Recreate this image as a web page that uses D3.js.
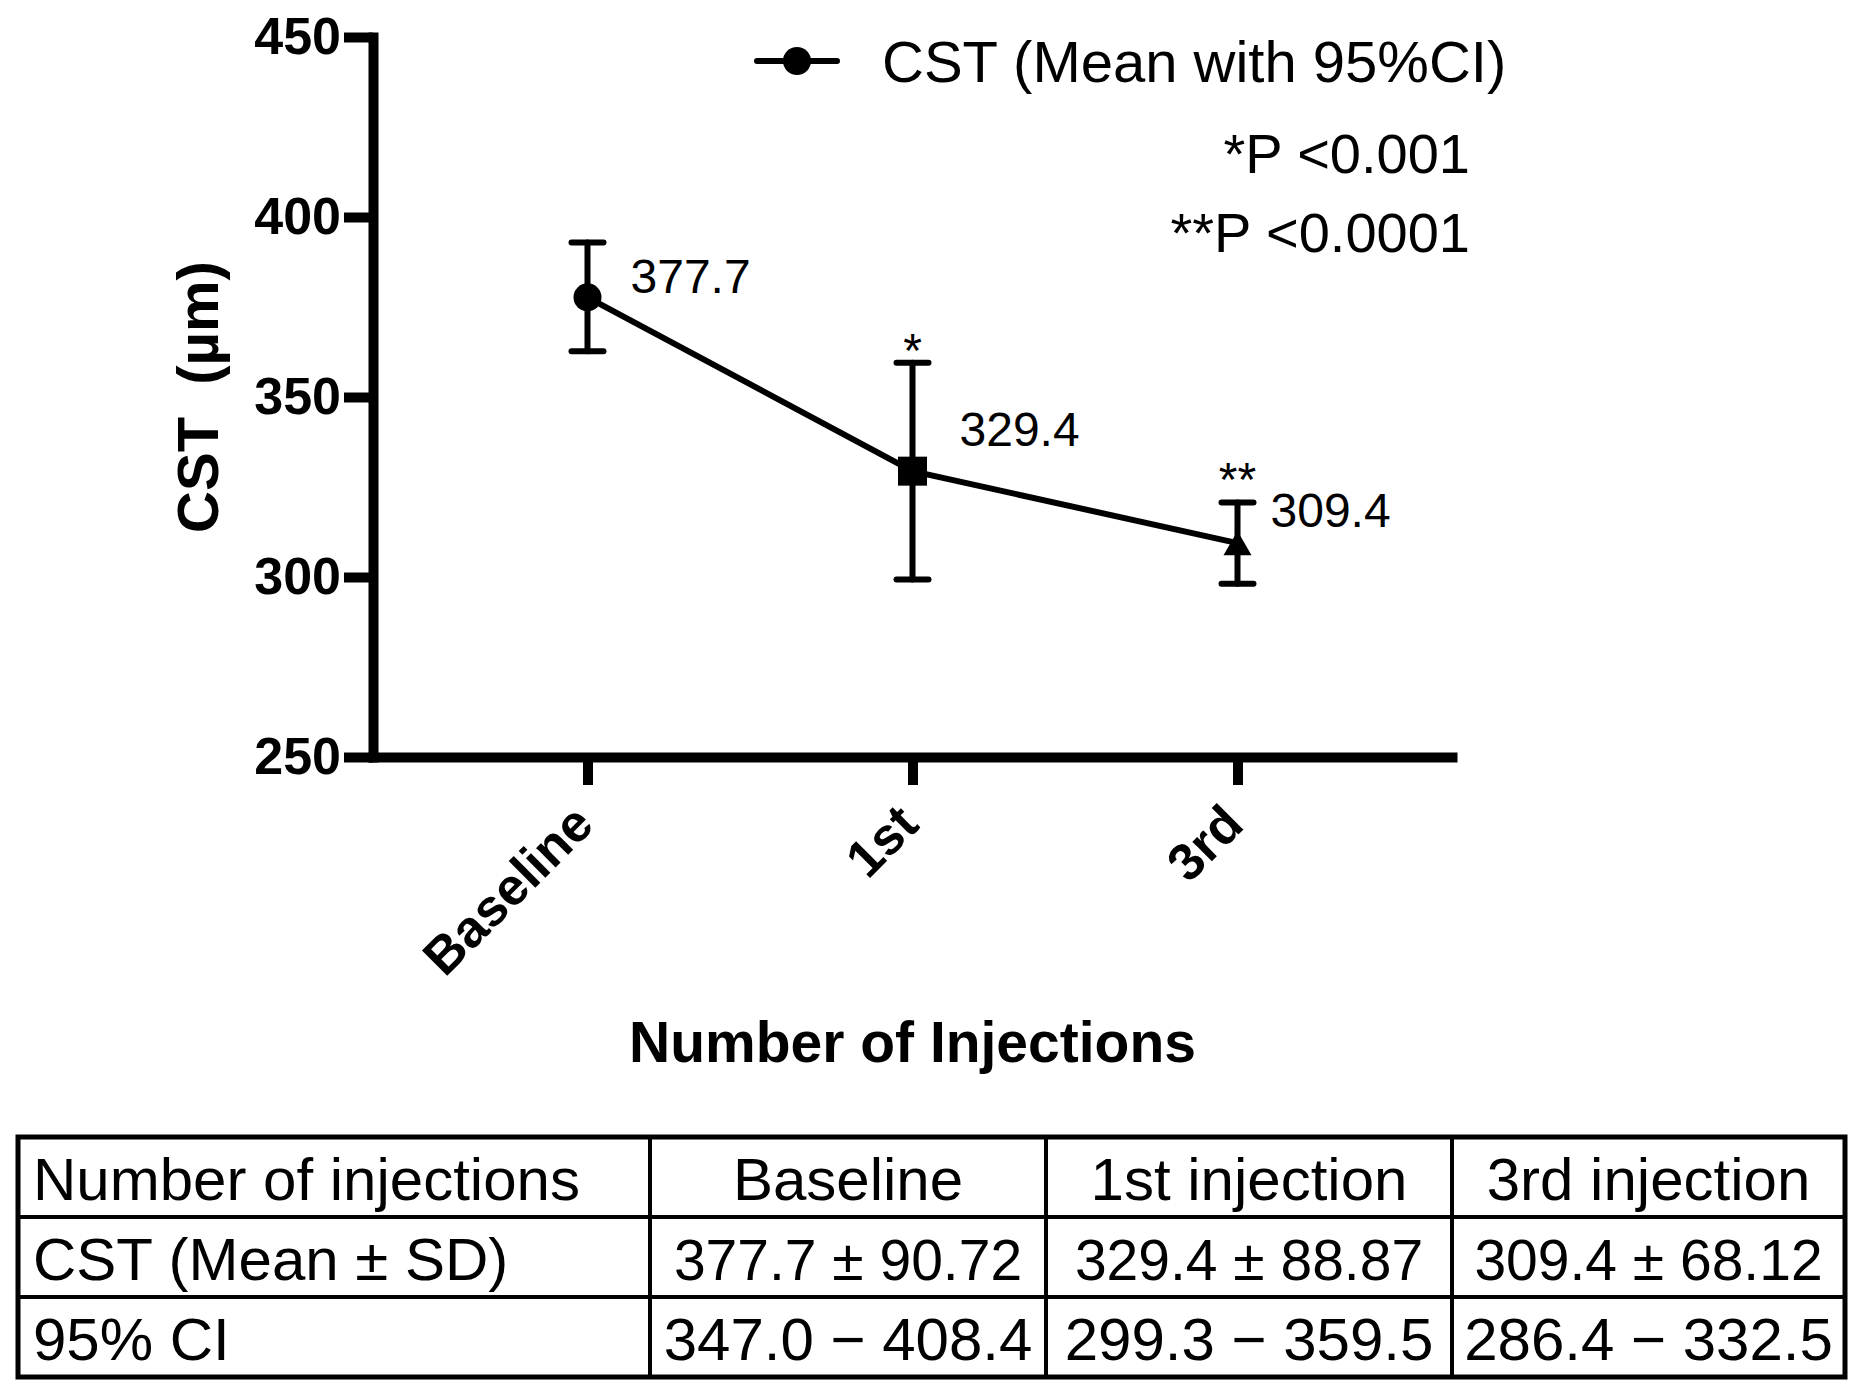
<!DOCTYPE html>
<html lang="en">

<head>
    <meta charset="UTF-8">
    <title>CST by number of injections</title>
    <style>
        body {
            margin: 0;
            background: #fff;
        }

        svg {
            display: block;
            font-family: "Liberation Sans", Arial, Helvetica, sans-serif;
        }
    </style>
</head>

<body>
    <script src="https://d3js.org/d3.v7.min.js"></script>

    <script>
        // chart data
        const categories = ["Baseline", "1st", "3rd"];
        const means = [377.7, 329.4, 309.4];
        const barLow = [362.7, 299.3, 298.1];
        const barHigh = [392.9, 359.5, 320.7];
        const stars = ["", "*", "**"];
        const yTicks = [250, 300, 350, 400, 450];

        // table data
        const tableHeader = ["Number of injections", "Baseline", "1st injection", "3rd injection"];
        const tableMeanSd = ["CST (Mean ± SD)", "377.7 ± 90.72", "329.4 ± 88.87", "309.4 ± 68.12"];
        const tableCi = ["95% CI", "347.0 − 408.4", "299.3 − 359.5", "286.4 − 332.5"];

        // hand placed label nudges (layout, not data)
        const labelNudge = [[43, -4], [47, -25], [33, -16]];
        const starNudge = [0, 4, -6];
        const markers = [d3.symbolCircle, d3.symbolSquare, d3.symbolTriangle];
        const markerSize = [Math.PI * 14 * 14, 29 * 29, 340];
        const markerShift = [0, 0, 4];

        const width = 1862;
        const height = 1396;

        const svg = d3.select("body").append("svg")
            .attr("width", width)
            .attr("height", height);

        const axisX = 373;
        const axisY = 757;

        const x = d3.scalePoint()
            .domain(categories)
            .range([axisX, 1452])
            .padding(0.66);

        const y = d3.scaleLinear()
            .domain([250, 450])
            .range([axisY, 37]);

        // y axis
        const gy = svg.append("g")
            .attr("transform", `translate(${axisX},0)`)
            .call(d3.axisLeft(y).tickValues(yTicks).tickSize(29).tickSizeOuter(0).tickPadding(3));

        // x axis
        const gx = svg.append("g")
            .attr("transform", `translate(0,${axisY})`)
            .call(d3.axisBottom(x).tickSize(28).tickSizeOuter(0));

        [gx, gy].forEach(g => {
            g.select(".domain").attr("stroke", "#000").attr("stroke-width", 10).attr("stroke-linecap", "square");
            g.selectAll(".tick line").attr("stroke", "#000").attr("stroke-width", 10);
        });

        gy.selectAll(".tick text")
            .attr("font-size", 52)
            .attr("font-weight", "bold")
            .attr("fill", "#000")
            .attr("font-family", null);

        gx.selectAll(".tick text")
            .attr("font-size", 52)
            .attr("font-weight", "bold")
            .attr("fill", "#000")
            .attr("font-family", null)
            .attr("text-anchor", "end")
            .attr("dy", null)
            .attr("y", null)
            .attr("transform", "translate(8,70) rotate(-45)");

        // axis titles
        svg.append("text")
            .attr("transform", `translate(218,${(y.range()[0] + y.range()[1]) / 2}) rotate(-90)`)
            .attr("text-anchor", "middle")
            .attr("font-size", 58)
            .attr("font-weight", "bold")
            .style("white-space", "pre")
            .text("CST  (µm)");

        svg.append("text")
            .attr("x", (x.range()[0] + x.range()[1]) / 2)
            .attr("y", 1062)
            .attr("text-anchor", "middle")
            .attr("font-size", 57)
            .attr("font-weight", "bold")
            .text("Number of Injections");

        const pts = categories.map((c, i) => ({
            cat: c, i, mean: means[i], lo: barLow[i], hi: barHigh[i], star: stars[i]
        }));

        // error bars
        const bars = svg.append("g")
            .attr("stroke", "#000")
            .attr("stroke-width", 6)
            .attr("stroke-linecap", "round");

        bars.selectAll(".stem").data(pts).join("line")
            .attr("x1", d => x(d.cat)).attr("x2", d => x(d.cat))
            .attr("y1", d => y(d.lo)).attr("y2", d => y(d.hi));

        bars.selectAll(".cap").data(pts.flatMap(d => [[d.cat, d.lo], [d.cat, d.hi]])).join("line")
            .attr("x1", d => x(d[0]) - 16).attr("x2", d => x(d[0]) + 16)
            .attr("y1", d => y(d[1])).attr("y2", d => y(d[1]));

        // mean line
        svg.append("path")
            .datum(pts)
            .attr("fill", "none")
            .attr("stroke", "#000")
            .attr("stroke-width", 6)
            .attr("d", d3.line().x(d => x(d.cat)).y(d => y(d.mean)));

        // markers
        svg.selectAll(".marker").data(pts).join("path")
            .attr("transform", d => `translate(${x(d.cat)},${y(d.mean) + markerShift[d.i]})`)
            .attr("d", d => d3.symbol().type(markers[d.i]).size(markerSize[d.i])())
            .attr("fill", "#000");

        // value labels
        svg.selectAll(".val").data(pts).join("text")
            .attr("x", d => x(d.cat) + labelNudge[d.i][0])
            .attr("y", d => y(d.mean) + labelNudge[d.i][1])
            .attr("font-size", 48)
            .text(d => d3.format(".1f")(d.mean));

        // significance stars
        svg.selectAll(".star").data(pts.filter(d => d.star)).join("text")
            .attr("x", d => x(d.cat))
            .attr("y", d => y(d.hi) + starNudge[d.i])
            .attr("text-anchor", "middle")
            .attr("font-size", 48)
            .text(d => d.star);

        // legend
        const legend = svg.append("g").attr("transform", "translate(757,61)");
        legend.append("line")
            .attr("x1", 0).attr("x2", 80)
            .attr("stroke", "#000").attr("stroke-width", 6).attr("stroke-linecap", "round");
        legend.append("path")
            .attr("transform", "translate(40,0)")
            .attr("d", d3.symbol().type(d3.symbolCircle).size(markerSize[0])())
            .attr("fill", "#000");
        legend.append("text")
            .attr("x", 125).attr("y", 21)
            .attr("font-size", 58)
            .text("CST (Mean with 95%CI)");

        // p values
        svg.selectAll(".pval").data(["*P <0.001", "**P <0.0001"]).join("text")
            .attr("x", 1470)
            .attr("y", (d, i) => 173 + i * 79)
            .attr("text-anchor", "end")
            .attr("font-size", 56)
            .text(d => d);

        // summary table
        const rows = [tableHeader, tableMeanSd, tableCi];
        const colWidths = [632, 396, 406, 393];
        const colEdges = colWidths.reduce((a, w) => a.concat(a[a.length - 1] + w), [18]);
        const rowY = d3.scaleBand().domain(d3.range(rows.length)).range([1137, 1377]);
        const rowFont = [60, 57, 60];

        const table = svg.append("g");

        table.append("rect")
            .attr("x", colEdges[0]).attr("y", rowY.range()[0])
            .attr("width", colEdges[colEdges.length - 1] - colEdges[0])
            .attr("height", rowY.range()[1] - rowY.range()[0])
            .attr("fill", "none").attr("stroke", "#000").attr("stroke-width", 5);

        table.selectAll(".hline").data(d3.range(1, rows.length)).join("line")
            .attr("x1", colEdges[0]).attr("x2", colEdges[colEdges.length - 1])
            .attr("y1", d => rowY(d)).attr("y2", d => rowY(d))
            .attr("stroke", "#000").attr("stroke-width", 4);

        table.selectAll(".vline").data(colEdges.slice(1, -1)).join("line")
            .attr("x1", d => d).attr("x2", d => d)
            .attr("y1", rowY.range()[0]).attr("y2", rowY.range()[1])
            .attr("stroke", "#000").attr("stroke-width", 4);

        rows.forEach((row, r) => {
            table.selectAll(`.cell-${r}`).data(row).join("text")
                .attr("x", (d, c) => c === 0 ? colEdges[0] + 15 : (colEdges[c] + colEdges[c + 1]) / 2)
                .attr("y", rowY(r) + 63)
                .attr("text-anchor", (d, c) => c === 0 ? "start" : "middle")
                .attr("font-size", (d, c) => c === 0 ? 60 : rowFont[r])
                .text(d => d);
        });
    </script>
</body>

</html>
